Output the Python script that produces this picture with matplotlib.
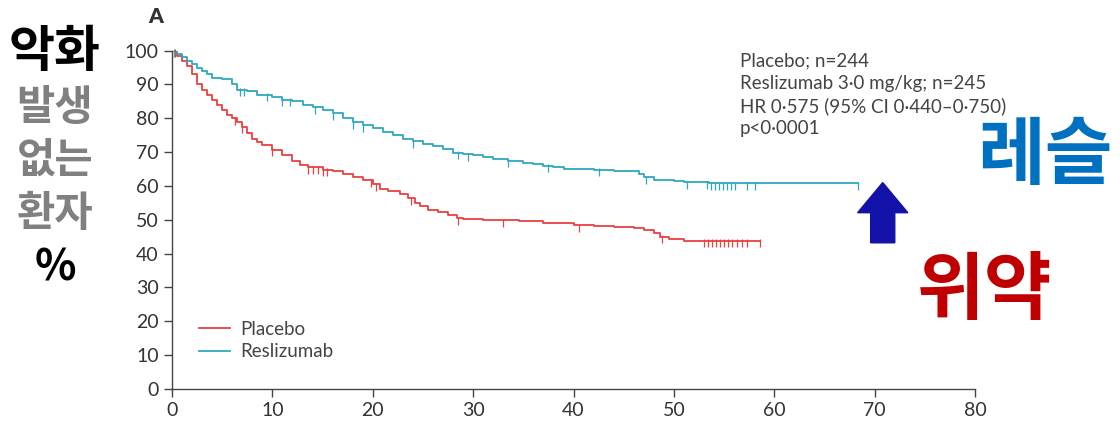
import numpy as np
import matplotlib
matplotlib.use("Agg")
import matplotlib.pyplot as plt

# Kaplan-Meier breakpoints (months, % free of exacerbation)
placebo_t = [0, 0.5, 1, 1.5, 2, 2.5, 3, 3.5, 4, 4.5, 5, 5.5, 6, 6.5, 7, 7.5, 8, 8.5, 9, 10,
             11, 12, 12.7, 13.5, 15, 16, 17, 18, 19, 20, 20.7, 21.5, 22.7, 23.5, 24.2, 24.7,
             25.5, 26.5, 27.5, 28.4, 29, 31, 34.6, 37, 40, 42, 44, 46, 47, 48, 48.6, 49.5, 51, 58.6]
placebo_s = [100, 98.5, 97, 95.5, 93, 90, 88.5, 87, 85.5, 84, 82.5, 81, 80, 79, 77.5, 75.5, 74,
             73, 72, 70.7, 69, 67.5, 66.3, 65.5, 64.8, 64.3, 63.5, 62.5, 61.8, 60.5, 59, 58.5,
             57.5, 56.5, 55, 54, 53, 52.2, 51.3, 50.5, 50.2, 49.8, 49.5, 49, 48.5, 48.2, 48, 47.5,
             47, 46, 45, 44.3, 43.8, 43.8]
reslizumab_t = [0, 0.5, 1, 1.5, 2, 2.5, 3, 3.5, 4, 5, 6, 6.5, 7.5, 8.5, 10, 11, 12, 13, 14, 15,
                16, 17, 18, 19, 20, 21, 22, 23, 24, 25, 26, 27, 28, 29, 30, 31, 32, 33.5, 35, 36,
                37, 38, 39, 42, 44, 46.5, 47, 48, 50, 51, 53.5, 68.3]
reslizumab_s = [100, 99, 98, 97, 96, 95, 94, 93, 92, 91.5, 90, 88.5, 88, 87, 86.3, 85.5, 85, 84,
                83.3, 82.5, 81.5, 80, 78.8, 78, 77.2, 76, 75, 74, 73.2, 72.5, 71.8, 71, 69.8, 69.5,
                69.2, 68.7, 68, 67.5, 66.8, 66.5, 66, 65.5, 65, 64.8, 64.3, 63.5, 62.5, 61.8, 61.5,
                61.2, 60.8, 60.8]

# censored observations (months)
placebo_cens = [0.3, 6.3, 7, 10, 13.5, 14, 14.5, 15, 15.4, 19.8, 20.3, 23.8, 28.5, 33, 40.5,
                48.8, 53, 53.4, 53.8, 54.2, 54.6, 55, 55.4, 55.8, 56.3, 56.8, 57.3, 58.6]
reslizumab_cens = [0.2, 6.8, 7.2, 9.5, 11, 11.8, 14.2, 16, 18, 19, 24, 28.5, 29.5, 33.5, 37.5,
                   42.5, 47.2, 51.3, 53.3, 53.7, 54.1, 54.5, 54.9, 55.3, 55.7, 56.1, 57.3, 58.1, 68.3]

x_ticks = [0, 10, 20, 30, 40, 50, 60, 70, 80]
y_ticks = [0, 10, 20, 30, 40, 50, 60, 70, 80, 90, 100]

RED = "#e8413f"
TEAL = "#2ea7bf"
GREY = "#444444"


def km_value(times, surv, t):
    idx = np.searchsorted(times, t, side="right") - 1
    return np.asarray(surv)[idx]


plt.rcParams["font.family"] = ["Lato", "DejaVu Sans"]
fig = plt.figure(figsize=(11.2, 4.23), dpi=100)
ax = fig.add_axes([0.1536, 0.0804, 0.717, 0.80])

ax.step(placebo_t, placebo_s, where="post", color=RED, lw=1.3, label="Placebo")
ax.step(reslizumab_t, reslizumab_s, where="post", color=TEAL, lw=1.3, label="Reslizumab")
ax.plot(placebo_cens, km_value(placebo_t, placebo_s, placebo_cens) - 0.8, ls="none",
        marker="|", ms=6, mew=0.9, color=RED, clip_on=False)
ax.plot(reslizumab_cens, km_value(reslizumab_t, reslizumab_s, reslizumab_cens) - 0.8, ls="none",
        marker="|", ms=6, mew=0.9, color=TEAL, clip_on=False)

ax.set_xlim(0, 80)
ax.set_ylim(0, 100)
ax.set_xticks(x_ticks)
ax.set_yticks(y_ticks)
for side in ("top", "right"):
    ax.spines[side].set_visible(False)
for side in ("left", "bottom"):
    ax.spines[side].set_color(GREY)
    ax.spines[side].set_linewidth(1.0)
ax.tick_params(direction="out", length=6, width=1.0, color=GREY, labelcolor="#333333", labelsize=14)

ax.legend(loc="lower left", bbox_to_anchor=(0.012, 0.035), frameon=False, fontsize=13.5,
          handlelength=1.7, handletextpad=0.5, labelspacing=0.3, labelcolor=GREY)

ax.text(0.707, 0.995, "Placebo; n=244\nReslizumab 3·0 mg/kg; n=245\nHR 0·575 (95% CI 0·440–0·750)\np<0·0001",
        transform=ax.transAxes, ha="left", va="top", fontsize=13.5, color=GREY, linespacing=1.38)

# arrow pointing up towards the reslizumab curve
ax.arrow(70.8, 43.2, 0, 17.8, width=2.4, head_width=5.0, head_length=8.9,
         length_includes_head=True, color="#1212a8", clip_on=False)

fig.text(0.132, 0.96, "A", fontsize=15, fontweight="heavy", color="#333333", ha="left", va="center")

kr = ["Noto Sans CJK KR", "DejaVu Sans"]
fig.text(0.049, 0.875, "악화", family=kr, fontsize=36, fontweight="bold", color="black",
         ha="center", va="center")
fig.text(0.049, 0.745, "발생", family=kr, fontsize=30, fontweight="bold", color="#808080",
         ha="center", va="center")
fig.text(0.049, 0.62, "없는", family=kr, fontsize=30, fontweight="bold", color="#808080",
         ha="center", va="center")
fig.text(0.049, 0.495, "환자", family=kr, fontsize=30, fontweight="bold", color="#808080",
         ha="center", va="center")
fig.text(0.049, 0.368, "%", family=kr, fontsize=31, fontweight="bold", color="black",
         ha="center", va="center")
fig.text(0.933, 0.63, "레슬", family=kr, fontsize=53, fontweight="bold", color="#0070c0",
         ha="center", va="center")
fig.text(0.879, 0.31, "위약", family=kr, fontsize=53, fontweight="bold", color="#c00000",
         ha="center", va="center")

fig.savefig("out.png", dpi=100)
